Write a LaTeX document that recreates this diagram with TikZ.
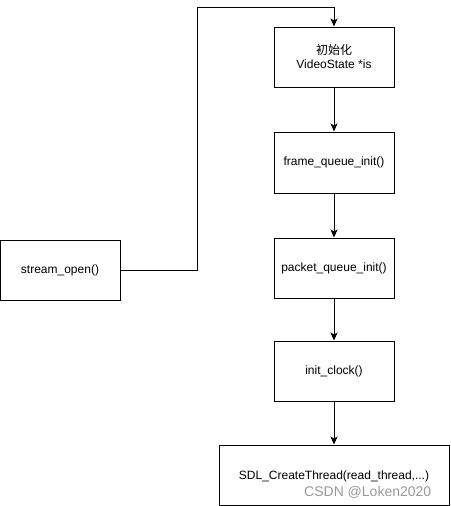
\documentclass[tikz,border=0pt]{standalone}
\usepackage{fontspec}
\setmainfont{Liberation Sans}
\newfontfamily\cjk{Noto Sans CJK SC}
\usetikzlibrary{arrows.meta}
\begin{document}
\begin{tikzpicture}[x=1pt,y=-1pt,
  box/.style={draw=black,line width=1pt,fill=white,inner sep=0pt,align=center,font=\fontsize{12}{14}\selectfont},
  conn/.style={draw=black,line width=1pt,-{Stealth[length=8pt,width=7pt,inset=2pt]}}]
\useasboundingbox[fill=white] (0,0) rectangle (450,506);
\node[box,minimum width=120pt,minimum height=60pt] (init) at (334,57) {{\cjk 初始化}\\VideoState *is};
\node[box,minimum width=120pt,minimum height=61pt] (frame) at (334,162.5) {frame\_queue\_init()};
\node[box,minimum width=120pt,minimum height=60pt] (packet) at (334,268) {packet\_queue\_init()};
\node[box,minimum width=120pt,minimum height=60pt] (clock) at (334,371) {init\_clock()};
\node[box,minimum width=230pt,minimum height=60pt,text depth=0pt] (sdl) at (334,475) {};
\node[font=\fontsize{12}{14}\selectfont,anchor=center] (sdltext) at (334,476) {SDL\_CreateThread(read\_thread,...)};
\node[box,minimum width=120pt,minimum height=60pt] (open) at (60,270) {stream\_open()};
\coordinate (c1) at (197,270);
\coordinate (c2) at (197,7);
\coordinate (c3) at (334,7);
\draw[conn] (open.east) -- (c1) -- (c2) -- (c3) -- (init.north);
\draw[conn] (init) -- (frame);
\draw[conn] (frame) -- (packet);
\draw[conn] (packet) -- (clock);
\draw[conn] (clock) -- (sdl);
\node[anchor=west,text=black!40,font=\fontsize{14}{16}\selectfont,inner sep=0pt] (wm) at (304,492) {CSDN @Loken2020};
\end{tikzpicture}
\end{document}
